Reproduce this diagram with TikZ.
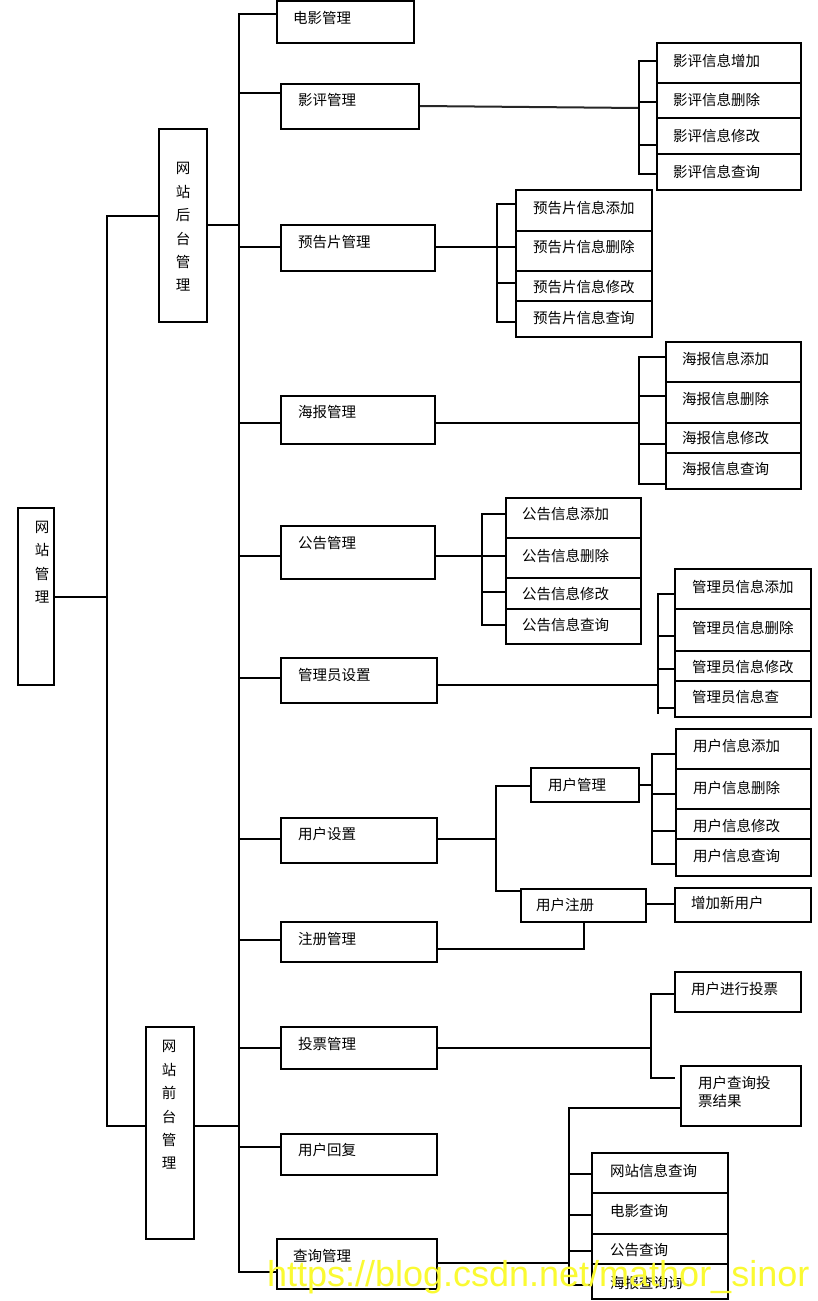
\documentclass[tikz,border=0pt]{standalone}
\usepackage{fontspec}
\newfontfamily\cjk{Noto Sans CJK SC}
\newfontfamily\wmfont{Liberation Sans}
\usetikzlibrary{fit}
\definecolor{wmyellow}{RGB}{250,250,50}
\newcommand\bx[8]{%
  \node[box, fit={(#2,#3)(#4,#5)}] (#1) {};
  \node[lbl] (#1t) at (#6,#7) {#8};}
\begin{document}
\begin{tikzpicture}[x=1pt,y=-1pt,line width=2pt,
  box/.style={draw, inner sep=0pt, line width=2pt},
  lbl/.style={anchor=west, inner sep=0pt, font=\cjk\fontsize{14.5}{17}\selectfont},
  vlbl/.style={inner sep=0pt, align=center, font=\cjk\fontsize{14.5}{23.4}\selectfont},
  ln/.style={line width=2pt}]
\useasboundingbox (0,0) rectangle (817,1301);
% tall boxes
\node[box, fit={(18,508)(54,685)}] (root) {};
\node[vlbl] (roott) at (42,562) {网\\站\\管\\理};
\node[box, fit={(159,129)(207,322)}] (ht) {};
\node[vlbl] (htt) at (183,227) {网\\站\\后\\台\\管\\理};
\node[box, fit={(146,1027)(194,1239)}] (qt) {};
\node[vlbl] (qtt) at (169,1105) {网\\站\\前\\台\\管\\理};
% level 2
\bx{dy}{277}{1}{414}{43}{292}{18}{电影管理}
\bx{yp}{281}{84}{419}{129}{297}{100}{影评管理}
\bx{yg}{281}{225}{435}{271}{297}{242}{预告片管理}
\bx{hb}{281}{396}{435}{444}{297}{412}{海报管理}
\bx{gg}{281}{526}{435}{579}{297}{543}{公告管理}
\bx{gly}{281}{658}{437}{703}{297}{675}{管理员设置}
\bx{yh}{281}{818}{437}{863}{297}{834}{用户设置}
\bx{zc}{281}{922}{437}{962}{297}{939}{注册管理}
\bx{tp}{281}{1027}{437}{1069}{297}{1044}{投票管理}
\bx{hf}{281}{1134}{437}{1175}{297}{1150}{用户回复}
\bx{cx}{277}{1239}{437}{1289}{292}{1256}{查询管理}
% 影评
\bx{ypa}{657}{43}{801}{83}{672}{61}{影评信息增加}
\bx{ypb}{657}{83}{801}{118}{672}{100}{影评信息删除}
\bx{ypc}{657}{118}{801}{154}{672}{136}{影评信息修改}
\bx{ypd}{657}{154}{801}{190}{672}{172}{影评信息查询}
% 预告片
\bx{yga}{516}{190}{652}{231}{532}{208}{预告片信息添加}
\bx{ygb}{516}{231}{652}{271}{532}{247}{预告片信息删除}
\bx{ygc}{516}{271}{652}{301}{532}{287}{预告片信息修改}
\bx{ygd}{516}{301}{652}{337}{532}{318}{预告片信息查询}
% 海报
\bx{hba}{666}{342}{801}{382}{681}{359}{海报信息添加}
\bx{hbb}{666}{382}{801}{423}{681}{399}{海报信息删除}
\bx{hbc}{666}{423}{801}{453}{681}{438}{海报信息修改}
\bx{hbd}{666}{453}{801}{489}{681}{469}{海报信息查询}
% 公告
\bx{gga}{506}{498}{641}{538}{521}{514}{公告信息添加}
\bx{ggb}{506}{538}{641}{578}{521}{556}{公告信息删除}
\bx{ggc}{506}{578}{641}{609}{521}{594}{公告信息修改}
\bx{ggd}{506}{609}{641}{644}{521}{625}{公告信息查询}
% 管理员
\bx{gla}{675}{569}{811}{609}{691}{587}{管理员信息添加}
\bx{glb}{675}{609}{811}{651}{691}{628}{管理员信息删除}
\bx{glc}{675}{651}{811}{681}{691}{667}{管理员信息修改}
\bx{gld}{675}{681}{811}{717}{691}{697}{管理员信息查}
% 用户
\bx{yhm}{531}{768}{639}{802}{547}{785}{用户管理}
\bx{yha}{676}{729}{811}{769}{692}{746}{用户信息添加}
\bx{yhb}{676}{769}{811}{809}{692}{788}{用户信息删除}
\bx{yhc}{676}{809}{811}{839}{692}{826}{用户信息修改}
\bx{yhd}{676}{839}{811}{876}{692}{856}{用户信息查询}
\bx{yhz}{521}{889}{646}{922}{535}{905}{用户注册}
\bx{xz}{675}{888}{811}{922}{690}{903}{增加新用户}
% 投票
\bx{tpa}{675}{972}{801}{1012}{690}{989}{用户进行投票}
\node[box, fit={(681,1066)(801,1126)}] (tpb) {};
\node[lbl, anchor=north west, align=left, font=\cjk\fontsize{14.5}{18}\selectfont] (tpbt) at (697,1075) {用户查询投\\票结果};
% 查询
\bx{cxa}{592}{1153}{728}{1193}{609}{1171}{网站信息查询}
\bx{cxb}{592}{1193}{728}{1234}{609}{1211}{电影查询}
\bx{cxc}{592}{1234}{728}{1264}{609}{1250}{公告查询}
\bx{cxd}{592}{1264}{728}{1299}{609}{1283}{海报查询询}
% ---- connectors ----
\draw[ln] (root.east |- 0,597) -- (107,597);
\draw[ln] (ht.west |- 0,216) -| (107,1126) -- (qt.west |- 0,1126);
\draw[ln] (ht.east |- 0,225) -- (239,225);
\draw[ln] (qt.east |- 0,1126) -- (239,1126);
\draw[ln] (dy.west |- 0,14) -| (239,1272) -- (cx.west |- 0,1272);
\foreach \n/\y in {yp/93,yg/247,hb/423,gg/556,gly/678,yh/839,zc/940,tp/1048,hf/1147}
  \draw[ln] (239,\y) -- (\n.west |- 0,\y);
% 影评 group
\draw[ln, black!85] (yp.east |- 0,106) -- (639,108);
\draw[ln] (ypa.west |- 0,61) -| (639,174) -- (ypd.west |- 0,174);
\draw[ln] (639,102) -- (ypb.west |- 0,102);
\draw[ln] (639,145) -- (ypc.west |- 0,145);
% 预告片 group
\draw[ln] (yg.east |- 0,247) -- (497,247);
\draw[ln] (yga.west |- 0,204) -| (497,322) -- (ygd.west |- 0,322);
\draw[ln] (497,247) -- (ygb.west |- 0,247);
\draw[ln] (497,283) -- (ygc.west |- 0,283);
% 海报 group
\draw[ln] (hb.east |- 0,423) -- (639,423);
\draw[ln] (hba.west |- 0,357) -| (639,484) -- (hbd.west |- 0,484);
\draw[ln] (639,396) -- (hbb.west |- 0,396);
\draw[ln] (639,444) -- (hbc.west |- 0,444);
% 公告 group
\draw[ln] (gg.east |- 0,556) -- (482,556);
\draw[ln] (gga.west |- 0,514) -| (482,625) -- (ggd.west |- 0,625);
\draw[ln] (482,556) -- (ggb.west |- 0,556);
\draw[ln] (482,592) -- (ggc.west |- 0,592);
% 管理员 group
\draw[ln] (gly.east |- 0,685) -- (658,685);
\draw[ln] (gla.west |- 0,594) -| (658,714);
\draw[ln] (658,636) -- (glb.west |- 0,636);
\draw[ln] (658,669) -- (glc.west |- 0,669);
\draw[ln] (658,708) -- (gld.west |- 0,708);
% 用户 group
\draw[ln] (yh.east |- 0,839) -- (496,839);
\draw[ln] (yhm.west |- 0,786) -| (496,891) -- (yhz.west |- 0,891);
\draw[ln] (yhm.east |- 0,785) -- (652,785);
\draw[ln] (yha.west |- 0,754) -| (652,864) -- (yhd.west |- 0,864);
\draw[ln] (652,794) -- (yhb.west |- 0,794);
\draw[ln] (652,831) -- (yhc.west |- 0,831);
\draw[ln] (yhz.east |- 0,904) -- (xz.west |- 0,904);
\draw[ln] (zc.east |- 0,949) -| (yhz.south);
% 投票 group
\coordinate (tpend) at (675,1078);
\draw[ln] (tp.east |- 0,1048) -- (651,1048);
\draw[ln] (tpa.west |- 0,994) -| (651,1078) -- (tpend);
% 查询 group
\draw[ln] (cx.east |- 0,1263) -- (569,1263);
\draw[ln] (tpb.west |- 0,1108) -| (569,1285) -- (cxd.west |- 0,1285);
\draw[ln] (569,1174) -- (cxa.west |- 0,1174);
\draw[ln] (569,1215) -- (cxb.west |- 0,1215);
\draw[ln] (569,1251) -- (cxc.west |- 0,1251);
% watermark
\node[anchor=base west, inner sep=0pt, text=wmyellow, font=\wmfont\fontsize{36}{36}\selectfont] (wm) at (266,1286) {https://blog.csdn.net/mathor\_sinor};
\end{tikzpicture}
\end{document}
